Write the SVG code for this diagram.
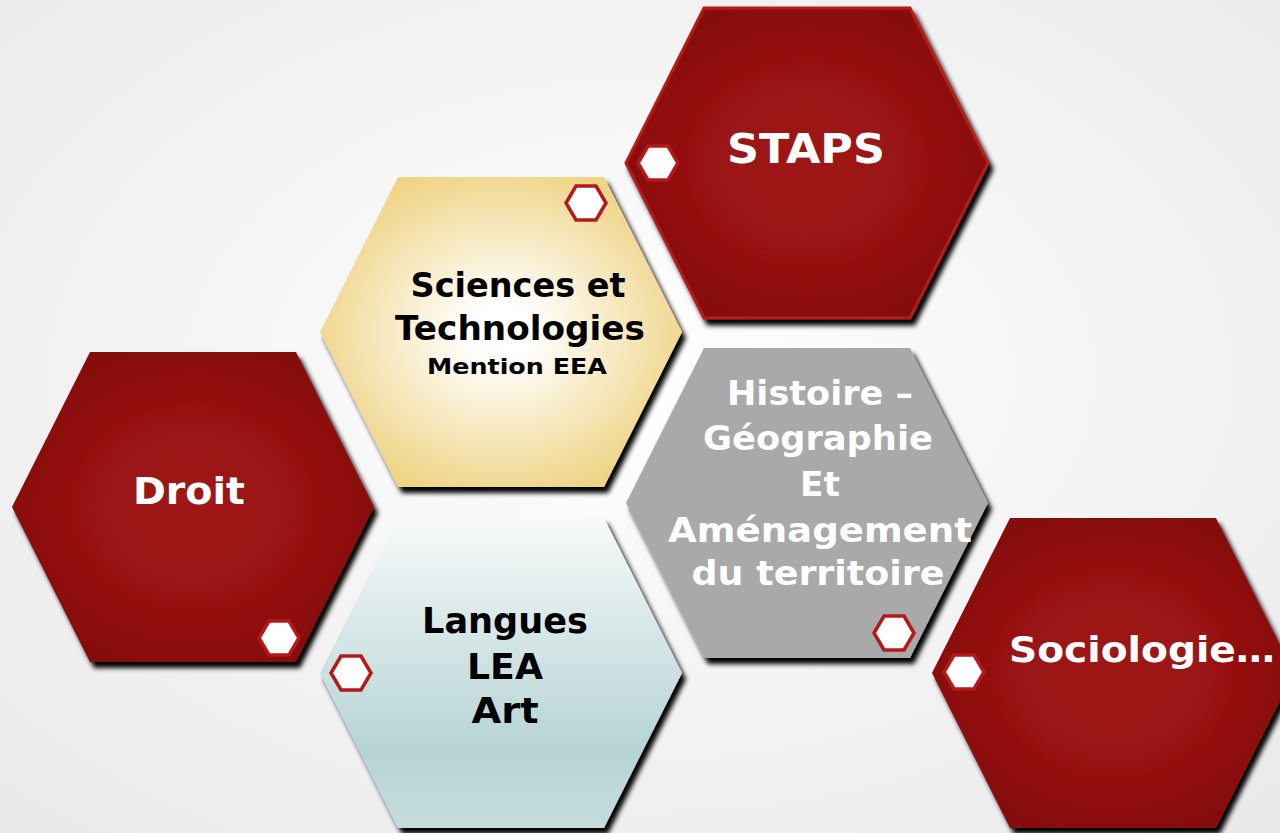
<svg xmlns="http://www.w3.org/2000/svg" width="1280" height="833" viewBox="0 0 1280 833">
<defs>
<radialGradient id="bg" cx="50%" cy="45%" r="75%">
<stop offset="0" stop-color="#ffffff"/>
<stop offset="1" stop-color="#e9e9e9"/>
</radialGradient>
<radialGradient id="red" cx="50%" cy="50%" r="65%">
<stop offset="0" stop-color="#9f1313"/>
<stop offset="0.4" stop-color="#9a1212"/>
<stop offset="1" stop-color="#7e0d0d"/>
</radialGradient>
<radialGradient id="gold" cx="50%" cy="50%" r="55%">
<stop offset="0.15" stop-color="#ffffff"/>
<stop offset="1" stop-color="#efd485"/>
</radialGradient>
<linearGradient id="blue" x1="0" y1="0" x2="0" y2="1">
<stop offset="0" stop-color="#f7f9f9"/>
<stop offset="0.75" stop-color="#b7d4d5"/>
<stop offset="1" stop-color="#c6dcdc"/>
</linearGradient>
<filter id="sh" x="-10%" y="-10%" width="125%" height="125%">
<feDropShadow dx="4" dy="6" stdDeviation="2.5" flood-color="#000" flood-opacity="1"/>
</filter>
<polygon id="hex" points="-181,0 -103,-155 103,-155 181,0 103,155 -103,155"/>
<polygon id="mini" points="-20,0 -10,-17 10,-17 20,0 10,17 -10,17"/>
</defs>
<style>
.big{filter:url(#sh)}
.mini{fill:#ffffff;stroke:#b51a1a;stroke-width:3.5}
.t{font-family:"DejaVu Sans","Liberation Sans",sans-serif;font-weight:bold;text-anchor:middle}
.w{fill:#ffffff}
.k{fill:#000000}
</style>
<rect width="1280" height="833" fill="url(#bg)"/>

<g id="droit">
<use href="#hex" x="193" y="507" class="big" fill="url(#red)"/>
<use href="#mini" x="279" y="638" class="mini"/>
<text class="t w" x="189" y="504" font-size="38" textLength="112" lengthAdjust="spacingAndGlyphs">Droit</text>
</g>

<g id="sciences">
<use href="#hex" x="501" y="332" class="big" fill="url(#gold)"/>
<use href="#mini" x="586" y="203" class="mini"/>
<text class="t k" x="518" y="297" font-size="34" textLength="215" lengthAdjust="spacingAndGlyphs">Sciences et</text>
<text class="t k" x="520" y="340" font-size="34" textLength="250" lengthAdjust="spacingAndGlyphs">Technologies</text>
<text class="t k" x="517" y="374" font-size="22" textLength="180" lengthAdjust="spacingAndGlyphs">Mention EEA</text>
</g>

<g id="langues">
<use href="#hex" x="501" y="673" class="big" fill="url(#blue)"/>
<use href="#mini" x="351" y="673" class="mini"/>
<text class="t k" x="505" y="633" font-size="36" textLength="166" lengthAdjust="spacingAndGlyphs">Langues</text>
<text class="t k" x="505" y="679" font-size="36" textLength="76" lengthAdjust="spacingAndGlyphs">LEA</text>
<text class="t k" x="505" y="723" font-size="36" textLength="67" lengthAdjust="spacingAndGlyphs">Art</text>
</g>

<g id="staps">
<use href="#hex" x="807" y="163" class="big" fill="url(#red)" stroke="#b51a1a" stroke-width="3"/>
<use href="#mini" x="658" y="163" class="mini"/>
<text class="t w" x="806" y="163" font-size="40" textLength="158" lengthAdjust="spacingAndGlyphs">STAPS</text>
</g>

<g id="histoire">
<use href="#hex" x="807" y="503" class="big" fill="#a9a9a9"/>
<use href="#mini" x="894" y="633" class="mini"/>
<text class="t w" x="820" y="405" font-size="34" textLength="186" lengthAdjust="spacingAndGlyphs">Histoire –</text>
<text class="t w" x="818" y="450" font-size="34" textLength="230" lengthAdjust="spacingAndGlyphs">Géographie</text>
<text class="t w" x="820" y="496" font-size="34" textLength="40" lengthAdjust="spacingAndGlyphs">Et</text>
<text class="t w" x="820" y="542" font-size="34" textLength="304" lengthAdjust="spacingAndGlyphs">Aménagement</text>
<text class="t w" x="818" y="585" font-size="34" textLength="253" lengthAdjust="spacingAndGlyphs">du territoire</text>
</g>

<g id="sociologie">
<use href="#hex" x="1113" y="673" class="big" fill="url(#red)"/>
<use href="#mini" x="964" y="672" class="mini"/>
<text class="t w" x="1142" y="662" font-size="36" textLength="266" lengthAdjust="spacingAndGlyphs">Sociologie…</text>
</g>

<g id="connectors"/>
</svg>
